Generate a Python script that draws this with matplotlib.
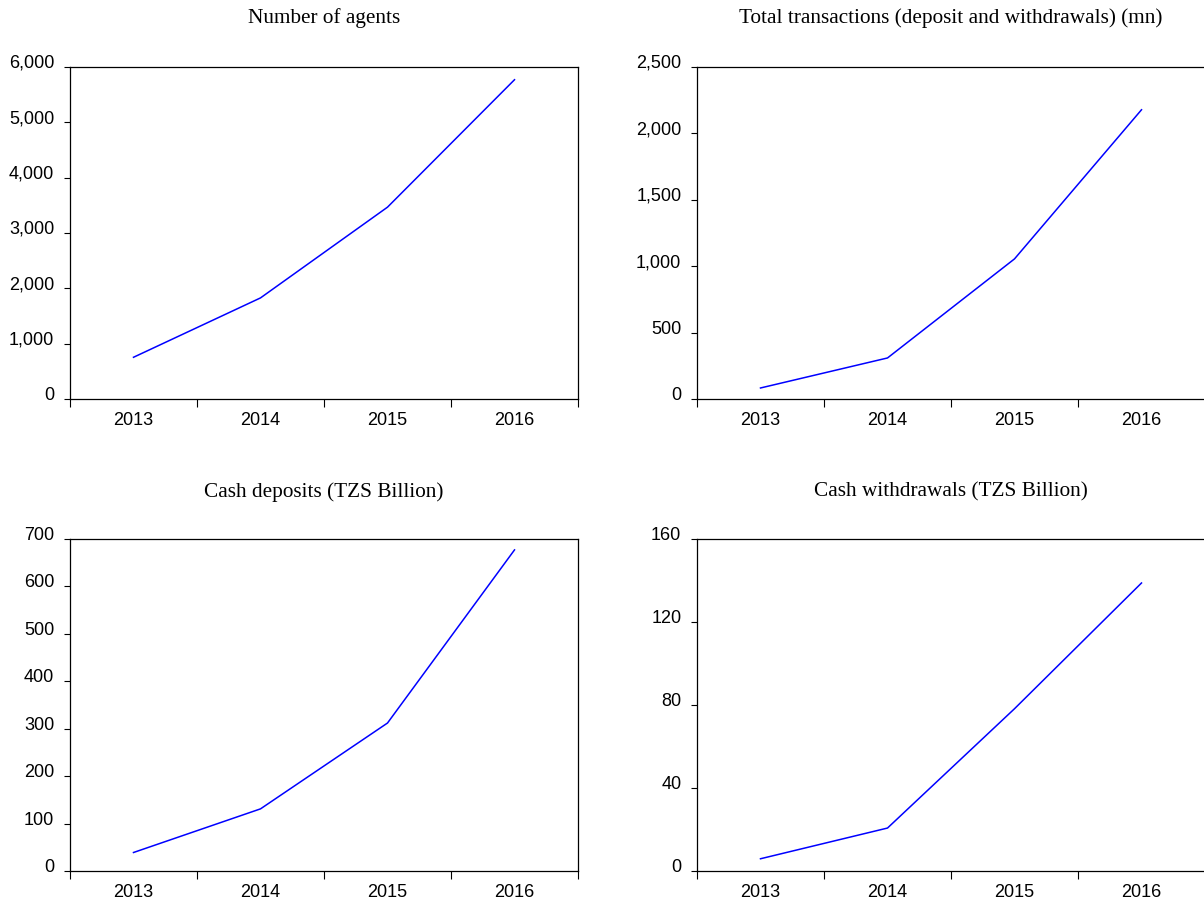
import numpy as np
import matplotlib.pyplot as plt
from matplotlib.ticker import FuncFormatter, FixedLocator

years = [2013, 2014, 2015, 2016]

agents = [754, 1827, 3467, 5770]
transactions = [83, 309, 1055, 2178]
deposits = [39, 131, 312, 677]
withdrawals = [5.9, 20.7, 78.2, 138.8]

titles = ["Number of agents",
          "Total transactions (deposit and withdrawals) (mn)",
          "Cash deposits (TZS Billion)",
          "Cash withdrawals (TZS Billion)"]
series = [agents, transactions, deposits, withdrawals]
ymax = [6000, 2500, 700, 160]
ystep = [1000, 500, 100, 40]

W, H = 1204, 903
fig = plt.figure(figsize=(W / 100, H / 100), dpi=100)

# axes boxes in pixels: left, top, right, bottom
boxes = [(70, 68, 578, 400), (697, 68, 1205, 400),
         (70, 540, 578, 872), (697, 540, 1205, 872)]
title_y = [18, 18, 492, 492]

comma = FuncFormatter(lambda v, p: f"{int(v):,}")

for i in range(4):
    l, t, r, b = boxes[i]
    ax = fig.add_axes([l / W, 1 - b / H, (r - l) / W, (b - t) / H])
    ax.plot(years, series[i], color="#0000ff", lw=1.1)
    ax.set_xlim(2012.5, 2016.5)
    ax.set_ylim(0, ymax[i])
    ax.set_yticks(np.arange(0, ymax[i] + 1, ystep[i]))
    ax.yaxis.set_major_formatter(comma)
    ax.xaxis.set_major_locator(FixedLocator([2012.5, 2013.5, 2014.5, 2015.5, 2016.5]))
    ax.xaxis.set_major_formatter(FuncFormatter(lambda v, p: ""))
    ax.xaxis.set_minor_locator(FixedLocator(years))
    ax.xaxis.set_minor_formatter(FuncFormatter(lambda v, p: str(int(round(v)))))
    ax.tick_params(axis="x", which="major", direction="out", length=6, width=0.8)
    ax.tick_params(axis="x", which="minor", length=0, pad=9)
    ax.tick_params(axis="y", direction="out", length=4.3, width=0.8, pad=7)
    for lab in ax.get_xticklabels(minor=True):
        lab.set_fontfamily("Liberation Sans")
        lab.set_fontsize(13)
    for lab in ax.get_yticklabels():
        lab.set_fontfamily("Liberation Sans")
        lab.set_fontsize(13)
        lab.set_verticalalignment("baseline")
    for s in ax.spines.values():
        s.set_linewidth(0.9)
    fig.text((l + r) / 2 / W, 1 - title_y[i] / H, titles[i], ha="center", va="center",
             family="Liberation Serif", fontsize=15.3)

fig.savefig("out.png", dpi=100)
